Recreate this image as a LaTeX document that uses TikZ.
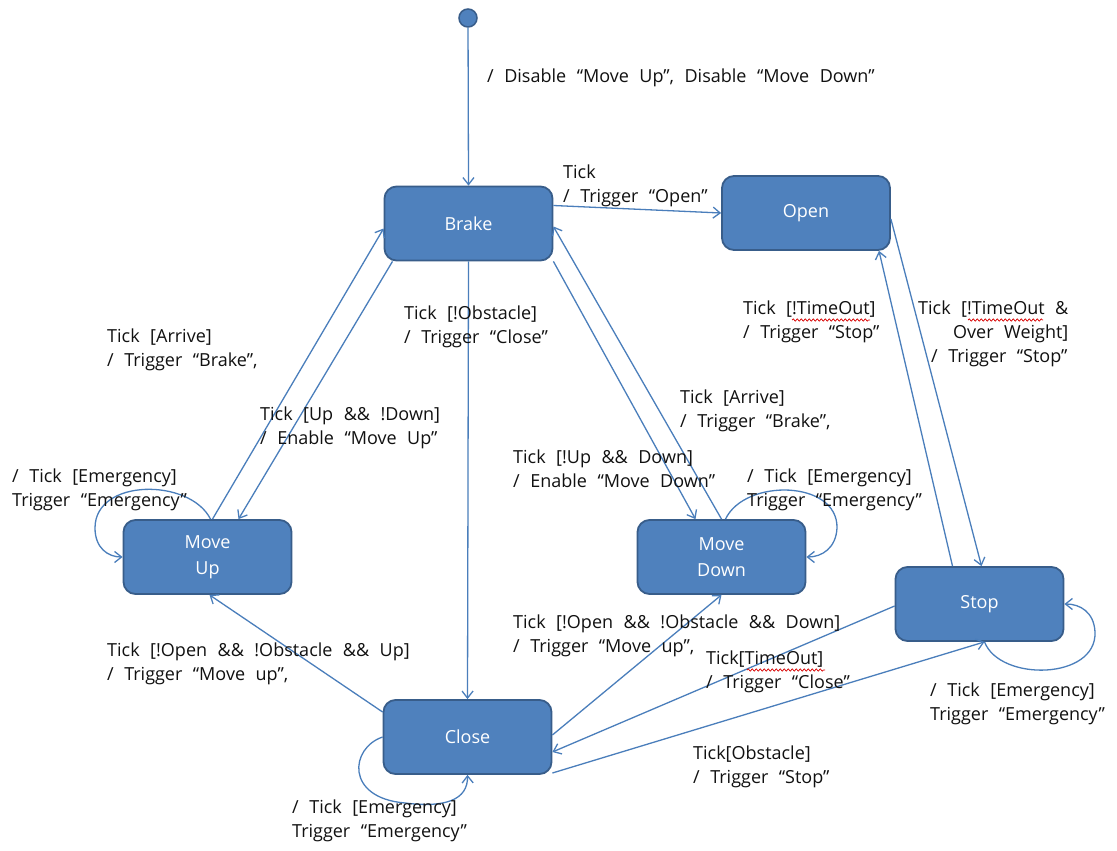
\documentclass[tikz,border=0pt]{standalone}
\usepackage{fontspec}
\setmainfont{Open Sans}
\usetikzlibrary{arrows.meta,decorations.pathmorphing}
\definecolor{stfill}{HTML}{4F81BD}
\definecolor{stedge}{HTML}{385D8A}
\definecolor{wire}{HTML}{4A7EBB}
\definecolor{lbl}{HTML}{111111}
\newcommand\labfont{\fontsize{18}{24}\selectfont\spaceskip=10.5pt\relax}
\begin{document}
\begin{tikzpicture}[x=1pt,y=-1pt,
  state/.style={draw=stedge, line width=1.8pt, fill=stfill, rounded corners=12pt,
    minimum width=168pt, minimum height=74pt, text=white, align=center,
    font=\fontsize{18}{26}\selectfont},
  initdot/.style={circle, minimum size=18pt, inner sep=0pt, fill=stfill, draw=stedge, line width=1.5pt},
  trans/.style={draw=wire, line width=1.3pt, -{Straight Barb[length=7pt,width=11pt]}},
  lab/.style={anchor=west, align=left, inner sep=0pt, text=lbl, font=\labfont},
  squig/.style={draw=red!85!black, line width=0.7pt, decorate,
    decoration={snake, amplitude=1.1pt, segment length=4pt}}]
\useasboundingbox[fill=white] (0,0) rectangle (1117,851);

% states
\node[initdot] (init) at (468,18) {};
\node[state] (brake) at (468.5,223.5) {Brake};
\node[state] (open) at (806,213) {Open};
\node[state] (moveup) at (207.5,557) {Move\\Up};
\node[state] (movedown) at (721.5,557) {Move\\Down};
\node[state] (stop) at (979.5,604) {Stop};
\node[state] (close) at (467.5,737) {Close};

% transitions
\draw[trans] (init) -- (brake.north);
\draw[trans] ([yshift=18pt]brake.east) -- (open.west);
\draw[trans] (brake.south) -- (close.north);
\draw[trans] ([xshift=5pt]moveup.north) -- ([yshift=-5pt]brake.west);
\draw[trans] ([xshift=-76pt]brake.south) -- ([xshift=31pt]moveup.north);
\draw[trans] (brake.south east) -- ([xshift=-26pt]movedown.north);
\draw[trans] (movedown.north) -- ([yshift=-3pt]brake.east);
\draw[trans] ([yshift=-6pt]open.east) -- ([xshift=2pt]stop.north);
\draw[trans] ([xshift=-27pt]stop.north) -- ([xshift=73pt]open.south);
\draw[trans] ([yshift=2pt]close.east) -- (movedown.south);
\draw[trans] ([yshift=-2pt]stop.west) -- ([yshift=-15pt]close.east);
\draw[trans] ([yshift=-36pt]close.east) -- ([xshift=5pt]stop.south);
\draw[trans] ([yshift=25pt]close.west) -- ([xshift=2pt]moveup.south);

% self loops
\draw[trans] ([xshift=3pt]moveup.north) .. controls (190,478) and (95,478) .. (95,528)
  .. controls (95,548) and (108,557) .. (moveup.west);
\draw[trans] ([xshift=4pt]movedown.north) .. controls (745,478) and (838,480) .. (837,528)
  .. controls (836,548) and (822,557) .. (movedown.east);
\draw[trans] ([xshift=5pt]stop.south) .. controls (1000,682) and (1097,680) .. (1095,632)
  .. controls (1094,612) and (1080,604) .. (stop.east);
\draw[trans] (close.west) .. controls (350,748) and (345,798) .. (405,803)
  .. controls (445,808) and (468,800) .. (close.south);

% labels
\node[lab] (linit) at (487,78) {/ Disable “Move Up”, Disable “Move Down”};
\node[lab] (lopen) at (563,186) {Tick\\/ Trigger “Open”};
\node[lab] (lclose) at (404,327) {Tick [!Obstacle]\\/ Trigger “Close”};
\node[lab] (larriveup) at (107,350) {Tick [Arrive]\\/ Trigger “Brake”,};
\node[lab] (lenup) at (260,428) {Tick [Up \&\& !Down]\\/ Enable “Move Up”};
\node[lab] (lemup) at (12,490) {/ Tick [Emergency]\\Trigger “Emergency”};
\node[lab] (lendown) at (513,469) {Tick [!Up \&\& Down]\\/ Enable “Move Down”};
\node[lab] (larrivedown) at (680,411) {Tick [Arrive]\\/ Trigger “Brake”,};
\node[lab] (lemdown) at (747,490) {/ Tick [Emergency]\\Trigger “Emergency”};
\node[lab] (lstopopen) at (743,322) {Tick [!TimeOut]\\/ Trigger “Stop”};
\node[lab] (lweight) at (918,334) {Tick [!TimeOut \&\\\hspace*{35pt}Over Weight]\\\hspace*{13pt}/ Trigger “Stop”};
\node[lab] (lmoveup) at (107,664) {Tick [!Open \&\& !Obstacle \&\& Up]\\/ Trigger “Move up”,};
\node[lab] (lmovedown) at (513,636) {Tick [!Open \&\& !Obstacle \&\& Down]\\/ Trigger “Move up”,};
\node[lab] (ltimeout) at (706,672) {Tick[TimeOut]\\/ Trigger “Close”};
\node[lab] (lemstop) at (930,704) {/ Tick [Emergency]\\Trigger “Emergency”};
\node[lab] (lobst) at (693,767) {Tick[Obstacle]\\/ Trigger “Stop”};
\node[lab] (lemclose) at (292,821) {/ Tick [Emergency]\\Trigger “Emergency”};

% spell-check marks
\draw[squig] (792,320) -- (870,320);
\draw[squig] (968,320) -- (1043,320);
\draw[squig] (747,670) -- (825,670);
\end{tikzpicture}
\end{document}
